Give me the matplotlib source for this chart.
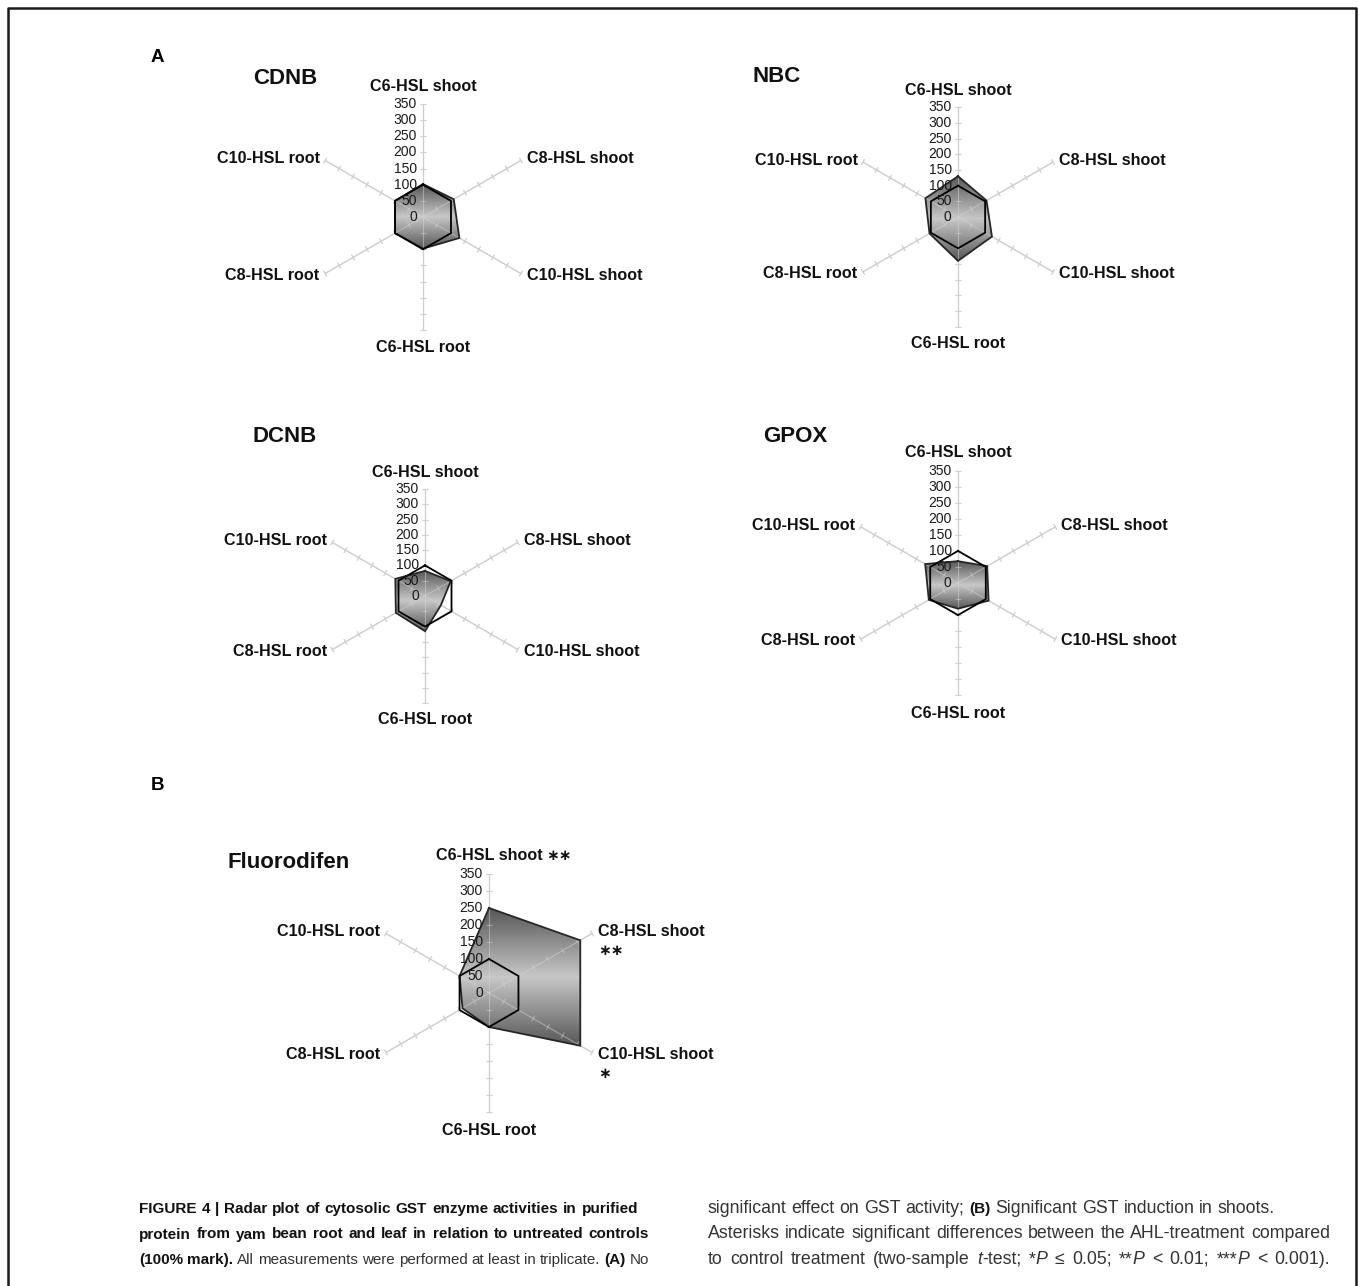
import numpy as np
import matplotlib
matplotlib.use("Agg")
import matplotlib.pyplot as plt
from matplotlib import font_manager
from matplotlib.patches import Polygon
from matplotlib.lines import Line2D
from matplotlib.collections import LineCollection

plt.rcParams["font.family"] = ["Liberation Sans", "DejaVu Sans"]

# ---- data -------------------------------------------------------------
categories = ["C6-HSL shoot", "C8-HSL shoot", "C10-HSL shoot",
              "C6-HSL root", "C8-HSL root", "C10-HSL root"]
radial_ticks = [0, 50, 100, 150, 200, 250, 300, 350]
control = [100, 100, 100, 100, 100, 100]          # untreated = 100 %

cdnb = [102, 110, 130, 98, 100, 100]
nbc = [130, 105, 125, 140, 105, 120]
dcnb = [82, 97, 60, 115, 110, 112]
gpox = [68, 105, 110, 80, 105, 118]
fluorodifen = [250, 310, 310, 100, 90, 100]
fluorodifen_stars = ["\u2217\u2217", "\u2217\u2217", "\u2217", "", "", ""]

# ---- figure -------------------------------------------------------------
W, H = 1359, 1286
DPI = 100
fig = plt.figure(figsize=(W / DPI, H / DPI), dpi=DPI)
fig.patch.set_facecolor("white")

# frame round the figure
fig.add_artist(Line2D([8 / W, 8 / W, 1356 / W, 1356 / W],
                      [0, 1 - 8 / H, 1 - 8 / H, 0],
                      transform=fig.transFigure, color="#1a1a1a", lw=1.8))


def px(x, y):
    return x / W, 1 - y / H


# angles clockwise from 12 o'clock
angles = np.deg2rad(90 - 60 * np.arange(len(categories)))
unit = np.column_stack([np.cos(angles), np.sin(angles)])
LABEL_SIZE = 11.6
STAR_FONT = dict(family=["DejaVu Sans"], fontsize=11, fontweight="bold", color="#111111")


def radar(name, values, center, scale, title_xy, stars=None):
    half = 150  # half-size of the axes box in pixels
    cx, cy = center
    ax = fig.add_axes([(cx - half) / W, (H - cy - half) / H, 2 * half / W, 2 * half / H])
    ax.set_axis_off()
    lim = half / scale

    rmax = radial_ticks[-1]
    # spokes with crossing tick marks
    spokes = [[(0, 0), (rmax * u[0], rmax * u[1])] for u in unit]
    hl = 3.2 / scale
    marks = []
    for u in unit:
        n = np.array([-u[1], u[0]])
        for r in radial_ticks[1:]:
            p = r * u
            marks.append([tuple(p - hl * n), tuple(p + hl * n)])
    ax.add_collection(LineCollection(spokes, colors="#c8c8c8", lw=0.9, zorder=1))
    ax.add_collection(LineCollection(spokes + marks, colors="#d4d4d4", lw=0.8,
                                     alpha=0.5, zorder=3))
    ax.add_collection(LineCollection(marks, colors="#cccccc", lw=0.8, zorder=1))

    # treatment polygon with vertical grey gradient
    v = np.asarray(values, dtype=float)
    xs, ys = v * unit[:, 0], v * unit[:, 1]
    poly = Polygon(np.column_stack([xs, ys]), closed=True,
                   facecolor="none", edgecolor="none")
    ax.add_patch(poly)
    t = np.linspace(0, 1, 256)[:, None]
    dark, light = 0.34, 0.78
    shade = dark + (light - dark) * (1 - np.abs(2 * t - 1))
    im = ax.imshow(shade, cmap="gray", vmin=0, vmax=1, origin="lower",
                   extent=(xs.min(), xs.max(), ys.min(), ys.max()),
                   aspect="auto", interpolation="bilinear", zorder=2)
    im.set_clip_path(poly)
    ax.plot(np.append(xs, xs[0]), np.append(ys, ys[0]),
            color="#262626", lw=1.3, zorder=4, solid_joinstyle="miter")

    # control series (100 % mark)
    c = np.asarray(control, dtype=float)
    ax.plot(np.append(c * unit[:, 0], c[0] * unit[0, 0]),
            np.append(c * unit[:, 1], c[0] * unit[0, 1]),
            color="black", lw=1.3, zorder=5, solid_joinstyle="miter")

    # radial scale on the upward spoke
    for r in radial_ticks:
        ax.annotate(str(r), (0, r), xytext=(-4.5, 0), textcoords="offset points",
                    ha="right", va="center", fontsize=10, color="#1a1a1a", zorder=6)

    # category labels
    lab_pos = [(0, 405, "center"), (322, 180, "left"), (322, -180, "left"),
               (0, -405, "center"), (-320, -180, "right"), (-320, 180, "right")]
    for i, (lx, ly, ha) in enumerate(lab_pos):
        txt = ax.text(lx, ly, categories[i], ha=ha, va="center",
                      fontsize=LABEL_SIZE, fontweight="bold", color="#111111")
        if stars and stars[i]:
            if i == 0:
                ax.annotate(stars[i], xy=(1, 0.5), xycoords=txt, xytext=(2.5, 0),
                            textcoords="offset points", ha="left", va="center",
                            **STAR_FONT)
            else:
                ax.annotate(stars[i], xy=(0, 0), xycoords=txt, xytext=(0, -3),
                            textcoords="offset points", ha="left", va="top",
                            **STAR_FONT)

    ax.set_xlim(-lim, lim)
    ax.set_ylim(-lim, lim)

    tx, ty = title_xy
    fig.text(*px(tx, ty), name, ha="center", va="center",
             fontsize=16, fontweight="bold", color="#111111")


radar("CDNB", cdnb, (423, 217), 0.323, (285, 78))
radar("NBC", nbc, (958, 217), 0.3135, (777, 77))
radar("DCNB", dcnb, (425, 596), 0.306, (285, 437))
radar("GPOX", gpox, (958, 583), 0.321, (795, 437))
radar("Fluorodifen", fluorodifen, (489, 993), 0.34, (289, 862), stars=fluorodifen_stars)

fig.text(*px(157, 57), "A", ha="center", va="center", fontsize=13.5, fontweight="bold")
fig.text(*px(157, 785), "B", ha="center", va="center", fontsize=13.5, fontweight="bold")

# ---- caption ------------------------------------------------------------
installed = {f.name for f in font_manager.fontManager.ttflist}
if "Liberation Sans Narrow" in installed:
    BOLD = dict(family=["Liberation Sans Narrow", "DejaVu Sans"], size=12.5)
else:
    BOLD = dict(family=["Liberation Sans", "DejaVu Sans"], size=11)
REG_SIZE = 12.8

caption_left = [
    [("FIGURE 4 | Radar plot of cytosolic GST enzyme activities in purified", "b")],
    [("protein from yam bean root and leaf in relation to untreated controls", "b")],
    [("(100% mark).", "b"), (" All measurements were performed at least in triplicate. ", "n"),
     ("(A)", "b"), (" No", "n")],
]
caption_right = [
    [("significant effect on GST activity; ", "n"), ("(B)", "b"),
     (" Significant GST induction in shoots.", "n")],
    [("Asterisks indicate significant differences between the AHL-treatment compared", "n")],
    [("to control treatment (two-sample ", "n"), ("t", "i"), ("-test; *", "n"), ("P", "i"),
     (" \u2264 0.05; **", "n"), ("P", "i"), (" < 0.01; ***", "n"), ("P", "i"),
     (" < 0.001).", "n")],
]

renderer = fig.canvas.get_renderer()


def style_kw(style, factor):
    # factor only narrows the regular / italic text of an over-long line
    if style == "b":
        return dict(fontweight="bold", color="#111111", family=BOLD["family"],
                    fontsize=BOLD["size"])
    kw = dict(fontweight="normal", color="#333333", fontsize=REG_SIZE * factor)
    if style == "i":
        kw["fontstyle"] = "italic"
    return kw


def words_of(segments):
    words = [[]]
    for text, style in segments:
        parts = text.split(" ")
        for k, p in enumerate(parts):
            if k > 0:
                words.append([])
            if p:
                words[-1].append((p, style))
    return [w for w in words if w]


def width_of(text, style, factor):
    t = fig.text(0, 0, text, **style_kw(style, factor))
    w = t.get_window_extent(renderer).width
    t.remove()
    return w


def measure(words, factor):
    widths = [[width_of(p, s, factor) for p, s in w] for w in words]
    space = width_of("a b", "n", 1.0) - width_of("ab", "n", 1.0)
    return widths, sum(sum(w) for w in widths), space


def draw_line(segments, x0, x1, y, justify):
    words = words_of(segments)
    factor = 1.0
    widths, total, space = measure(words, factor)
    target = x1 - x0
    if justify:
        # narrow the regular text until the line fits with tight spaces
        while total + 0.8 * space * (len(words) - 1) > target and factor > 0.8:
            factor -= 0.01
            widths, total, space = measure(words, factor)
    gap = space
    if justify and len(words) > 1:
        gap = (target - total) / (len(words) - 1)
    x = x0
    for w, ws in zip(words, widths):
        for (p, s), pw in zip(w, ws):
            fig.text(x / W, 1 - y / H, p, va="baseline", ha="left", **style_kw(s, factor))
            x += pw
        x += gap


for k, line in enumerate(caption_left):
    draw_line(line, 139, 649, 1213 + 25.5 * k, justify=k > 0)
for k, line in enumerate(caption_right):
    draw_line(line, 708, 1330, 1213 + 25.5 * k, justify=k > 0)

fig.savefig("out.png", dpi=DPI)
